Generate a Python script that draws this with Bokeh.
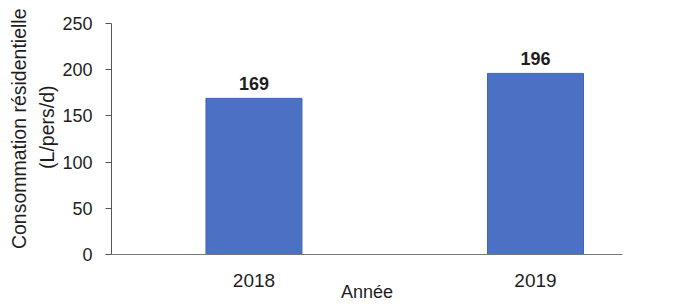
from bokeh.plotting import figure
from bokeh.models import ColumnDataSource, LabelSet, Title, FixedTicker, Range1d
from bokeh.core.properties import value
from bokeh.embed import file_html
from bokeh.resources import INLINE

years = [2018, 2019]
consumption = [169, 196]
value_labels = ["169", "196"]
y_ticks = [0, 50, 100, 150, 200, 250]
y_title = ["Consommation résidentielle", "(L/pers/d)"]
x_title = "Année"

FONT = "Liberation Sans"
TXT = "#1e1e1e"

src = ColumnDataSource(dict(year=years, value=consumption, label=value_labels))

p = figure(width=673, height=304, output_backend="svg", toolbar_location=None,
           x_range=Range1d(2017.494, 2019.309), y_range=Range1d(0, 250),
           min_border_left=111, min_border_right=51, min_border_top=23,
           min_border_bottom=50)
p.outline_line_color = None
p.xgrid.visible = False
p.ygrid.visible = False
p.background_fill_color = "white"
p.border_fill_color = "white"

p.vbar(x="year", top="value", width=0.341, bottom=0, source=src,
       fill_color="#4b70c4", line_color="#4066ba", line_width=1)

p.add_layout(LabelSet(x="year", y="value", text="label", source=src,
                      y_offset=8, text_align="center", text_baseline="alphabetic",
                      text_font=value(FONT), text_font_size=value("18px"),
                      text_font_style="bold", text_color=TXT))

# y axis
ya = p.yaxis[0]
ya.ticker = FixedTicker(ticks=y_ticks)
ya.axis_line_color = "#555555"
ya.major_tick_line_color = "#555555"
ya.major_tick_out = 6
ya.major_tick_in = 0
ya.minor_tick_line_color = None
ya.major_label_standoff = 13
ya.major_label_text_font = FONT
ya.major_label_text_font_size = "18px"
ya.major_label_text_color = TXT

# x axis
xa = p.xaxis[0]
xa.ticker = FixedTicker(ticks=years)
xa.axis_line_color = "#777777"
xa.major_tick_line_color = None
xa.minor_tick_line_color = None
xa.major_label_standoff = 13
xa.major_label_text_font = FONT
xa.major_label_text_font_size = "19px"
xa.major_label_text_color = TXT
xa.axis_label = x_title
xa.axis_label_standoff = -8
xa.axis_label_text_font = FONT
xa.axis_label_text_font_size = "18px"
xa.axis_label_text_font_style = "normal"
xa.axis_label_text_color = TXT

# y axis title: two lines, as side titles (first added sits nearest the axis)
offsets = {"(L/pers/d)": 62, "Consommation résidentielle": -15}
for line in reversed(y_title):
    p.add_layout(Title(text=line, align="right", offset=offsets[line], standoff=4,
                       text_font=FONT, text_font_size="19.5px",
                       text_font_style="normal", text_color=TXT), "left")

open("out.html", "w").write(file_html(p, INLINE))
